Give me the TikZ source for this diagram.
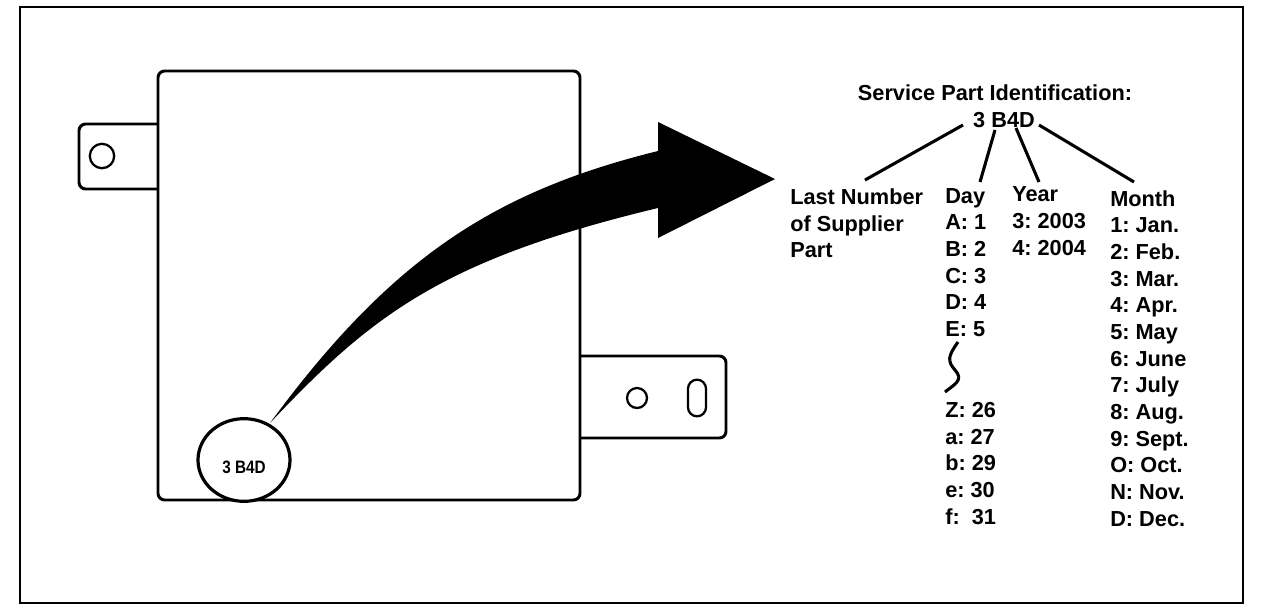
\documentclass[tikz,border=0pt]{standalone}
\usepackage{fontspec}
\setmainfont{Liberation Sans}
\usetikzlibrary{positioning, shapes.geometric, shapes.misc}
\frenchspacing
\begin{document}
\begin{tikzpicture}[x=0.75pt, y=-0.75pt,
        part/.style={draw=black, line width=2.2pt, rounded corners=5pt},
        hole/.style={circle, draw=black, line width=1.7pt, inner sep=0pt},
        lbl/.style={anchor=north west, inner sep=0pt, align=left, font=\bfseries\fontsize{16.3}{20}\selectfont},
        lead/.style={draw=black, line width=2.3pt}
    ]
        \useasboundingbox (0,0) rectangle (1264,614);
        % frame
        \draw[line width=2.2pt] (20,7) rectangle (1243,603);
        % module
        \draw[part] (158,71) rectangle (580,500);
        \draw[part] (158,124) -- (79,124) -- (79,189) -- (158,189);
        \draw[part] (580,356) -- (726,356) -- (726,438) -- (580,438);
        \node[hole, minimum size=18.3pt] (lefthole) at (102,156) {};
        \node[hole, minimum size=15pt] (righthole) at (637,398) {};
        \node[rounded rectangle, draw=black, line width=1.7pt, inner sep=0pt, minimum width=27.5pt, minimum height=13.5pt, rotate=90] (slot) at (697,398) {};
        % stamp
        \node[ellipse, draw=black, fill=white, line width=2.4pt, inner sep=0pt, minimum width=69pt, minimum height=62pt] (stamp) at (244,460) {};
        \node[inner sep=0pt, xscale=0.85, font=\bfseries\fontsize{13.5}{15}\selectfont] (stamptext) at (244,467) {3 B4D};
        % big arrow
        \fill[black] (270,423) .. controls (390,260) and (492,192) .. (658,151) -- (658,122) -- (775,179) -- (658,238) -- (658,208) .. controls (441,260) and (371,316) .. (270,423) -- cycle;
        % identification
        \node[inner sep=0pt, font=\bfseries\fontsize{16.3}{20}\selectfont] (title) at (995,93) {Service Part Identification:};
        \node[inner sep=0pt, font=\bfseries\fontsize{16.3}{20}\selectfont] (code) at (1004,120) {3 B4D};
        \node[lbl] (supplier) at (790,188.5) {Last Number\\of Supplier\\Part};
        \node[lbl] (day) at (945,188) {Day\\A: 1\\B: 2\\C: 3\\D: 4\\E: 5};
        \node[lbl] (dayend) at (945,402) {Z: 26\\a: 27\\b: 29\\e: 30\\f:\ \ 31};
        \node[lbl] (year) at (1012,186.5) {Year\\3: 2003\\4: 2004};
        \node[lbl] (month) at (1110,190) {Month\\1: Jan.\\2: Feb.\\3: Mar.\\4: Apr.\\5: May\\6: June\\7: July\\8: Aug.\\9: Sept.\\O: Oct.\\N: Nov.\\D: Dec.};
        % leader ends
        \coordinate (c1) at (963,125);
        \coordinate (c2) at (995,130);
        \coordinate (c3) at (1016,128);
        \coordinate (c4) at (1039,125);
        \coordinate (e1) at (865,180);
        \coordinate (e2) at (980,182);
        \coordinate (e3) at (1039,182);
        \coordinate (e4) at (1134,182);
        \draw[lead] (c1) -- (e1);
        \draw[lead] (c2) -- (e2);
        \draw[lead] (c3) -- (e3);
        \draw[lead] (c4) -- (e4);
        \draw[line width=2.3pt] (958,342) .. controls (948,356) and (947,361) .. (955,370) .. controls (964,380) and (955,384) .. (945,392);
    \end{tikzpicture}
\end{document}
